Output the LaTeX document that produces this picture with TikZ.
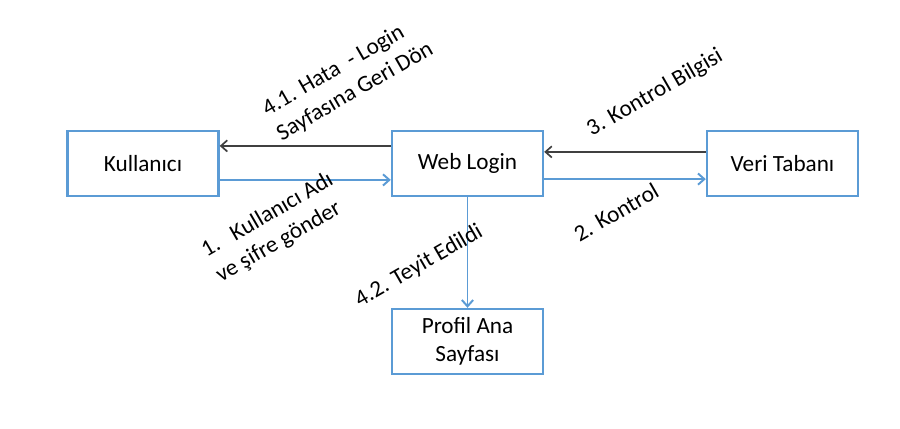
\documentclass[tikz,border=0pt]{standalone}
\usepackage{fontspec}
\setmainfont{Carlito}
\usetikzlibrary{arrows.meta}
\definecolor{kutumavi}{HTML}{5B9BD5}
\definecolor{okgri}{HTML}{404040}
\tikzset{
	kutu/.style={draw=kutumavi,line width=1.7pt,minimum width=3.775cm,minimum height=1.625cm,inner sep=0pt,align=center,font=\fontsize{16.5}{20}\selectfont},
	mavi/.style={draw=kutumavi,line width=1.4pt,-{Straight Barb[length=4.5pt,width=8pt,line width=1.4pt]}},
	siyah/.style={draw=okgri,line width=1.2pt,-{Straight Barb[length=4.5pt,width=8pt,line width=1.2pt]}},
	etiket/.style={rotate=30,align=left,inner sep=0pt,font=\fontsize{16.5}{20.5}\selectfont}
}
\begin{document}
\begin{tikzpicture}
	\useasboundingbox (0,0) rectangle (22.5,10.7);
	\node[kutu] (kul) at (3.575,6.6125) {Kullanıcı};
	\node[kutu] (web) at (11.6875,6.6125) {Web Login};
	\node[kutu] (veri) at (19.5625,6.6125) {Veri Tabanı};
	\node[kutu] (profil) at (11.6875,2.1625) {Profil Ana\\Sayfası};
	\draw[siyah] ([yshift=0.44cm]web.west) -- ([yshift=0.44cm]kul.east);
	\draw[mavi] ([yshift=-0.41cm]kul.east) -- ([yshift=-0.41cm]web.west);
	\draw[siyah] ([yshift=0.29cm]veri.west) -- ([yshift=0.29cm]web.east);
	\draw[mavi] ([yshift=-0.39cm]web.east) -- ([yshift=-0.39cm]veri.west);
	\draw[mavi] (web.south) -- (profil.north);
	\node[etiket] (e41) at (8.7,8.72) {4.1. Hata\ \ - Login\\Sayfasına Geri Dön};
	\node[etiket] (e1) at (6.87,5.0) {1.\ \ \ Kullanıcı Adı\\ve şifre gönder};
	\node[etiket] (e3) at (16.375,8.375) {3. Kontrol Bilgisi};
	\node[etiket] (e2) at (15.4,5.4) {2. Kontrol};
	\node[etiket] (e42) at (10.475,4.05) {4.2. Teyit Edildi};
\end{tikzpicture}
\end{document}
